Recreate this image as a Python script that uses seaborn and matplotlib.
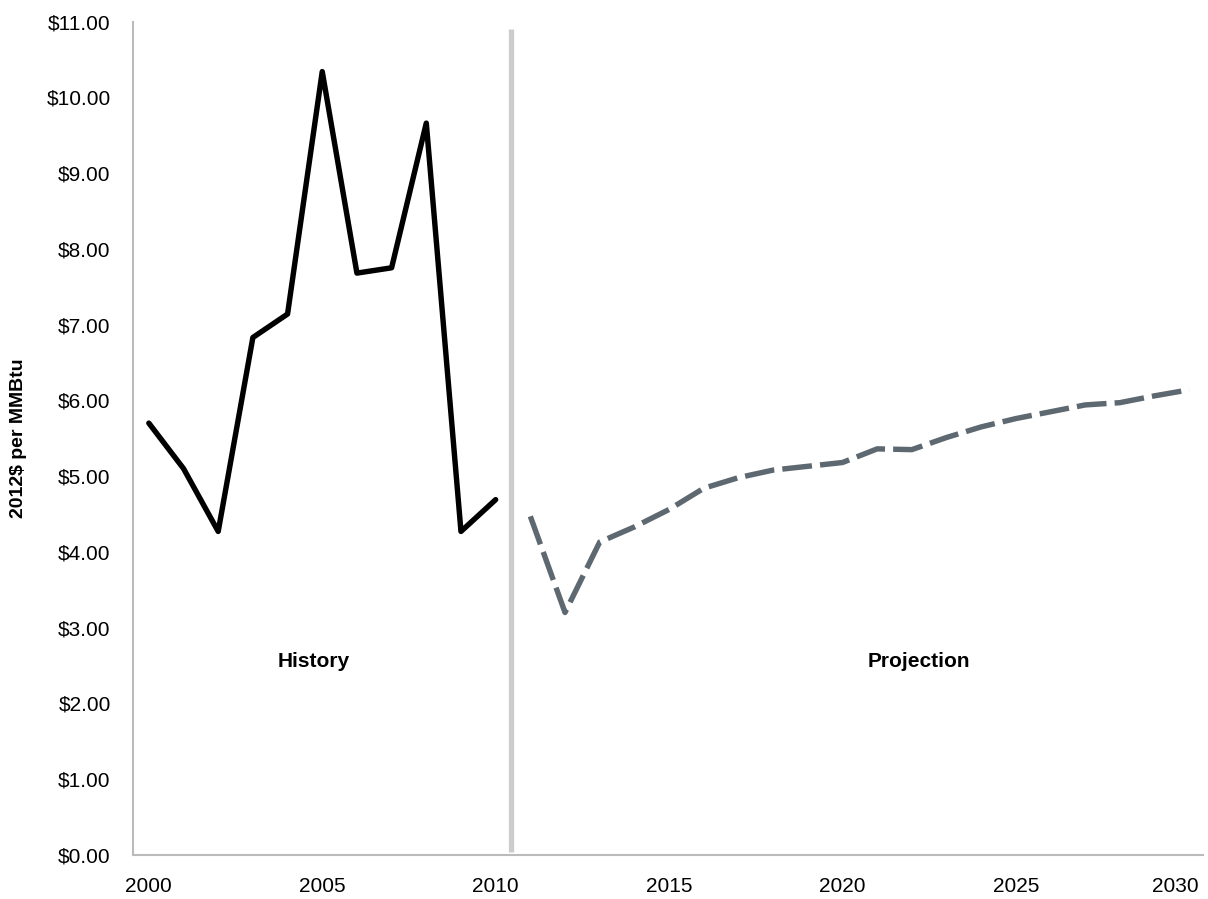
import matplotlib
matplotlib.use("Agg")
import matplotlib.pyplot as plt
import matplotlib.transforms as mtransforms
import seaborn as sns
import pandas as pd
from matplotlib.ticker import FuncFormatter

# history and projection, 2012$ per MMBtu
hist_years = [2000, 2001, 2002, 2003, 2004, 2005, 2006, 2007, 2008, 2009, 2010]
hist_price = [5.70, 5.10, 4.27, 6.83, 7.14, 10.34, 7.68, 7.75, 9.66, 4.27, 4.69]

proj_years = [2011, 2012, 2013, 2014, 2015, 2016, 2017, 2018, 2019, 2020,
              2021, 2022, 2023, 2024, 2025, 2026, 2027, 2028, 2029, 2030]
proj_price = [4.47, 3.20, 4.13, 4.33, 4.56, 4.84, 4.98, 5.08, 5.13, 5.18,
              5.36, 5.35, 5.51, 5.65, 5.76, 5.85, 5.94, 5.97, 6.06, 6.14]

divider_year = 2010.45

sns.set_style("white")
plt.rcParams['font.family'] = ['Liberation Sans', 'DejaVu Sans']
plt.rcParams['text.color'] = 'black'
plt.rcParams['axes.labelcolor'] = 'black'
plt.rcParams['xtick.color'] = 'black'
plt.rcParams['ytick.color'] = 'black'

hist = pd.DataFrame({"year": hist_years, "price": hist_price})
proj = pd.DataFrame({"year": proj_years, "price": proj_price})

fig = plt.figure(figsize=(12.08, 8.99), dpi=100)
ax = fig.add_axes([0.110, 0.049, 0.886, 0.927])

sns.lineplot(data=hist, x="year", y="price", ax=ax, color="black",
             linewidth=3.9)
sns.lineplot(data=proj, x="year", y="price", ax=ax, color="#5d6870",
             linewidth=3.9)
ax.lines[-1].set_dashes((5.5, 1.5))

# history / projection divider
ax.plot([divider_year, divider_year], [0.04, 10.9], color="#cccccc",
        linewidth=3.8, solid_capstyle="butt")

ax.text(2004.75, 2.55, "History", ha="center", va="center",
        fontsize=15, fontweight="bold")
ax.text(2022.2, 2.55, "Projection", ha="center", va="center",
        fontsize=15, fontweight="bold")

ax.set_xlim(1999.54, 2030.4)
ax.set_ylim(0, 11)
ax.set_xticks(range(2000, 2031, 5))
ax.set_yticks(range(0, 12))
ax.yaxis.set_major_formatter(FuncFormatter(lambda v, p: f"${v:.2f}"))

ax.set_xlabel("")
ax.set_ylabel("2012$ per MMBtu", fontsize=14, fontweight="bold")
ax.yaxis.label.set_verticalalignment("center")
ax.yaxis.set_label_coords(-0.107, 0.5)
ax.tick_params(axis="both", length=0, labelsize=15, pad=16)

# keep the last year label inside the figure
last = ax.get_xticklabels()[-1]
last.set_transform(last.get_transform() +
                   mtransforms.ScaledTranslation(-10 / 72, 0, fig.dpi_scale_trans))

for side in ["top", "right"]:
    ax.spines[side].set_visible(False)
for side in ["left", "bottom"]:
    ax.spines[side].set_color("#bbbbbb")
    ax.spines[side].set_linewidth(1.5)

fig.savefig("out.png", dpi=100)
